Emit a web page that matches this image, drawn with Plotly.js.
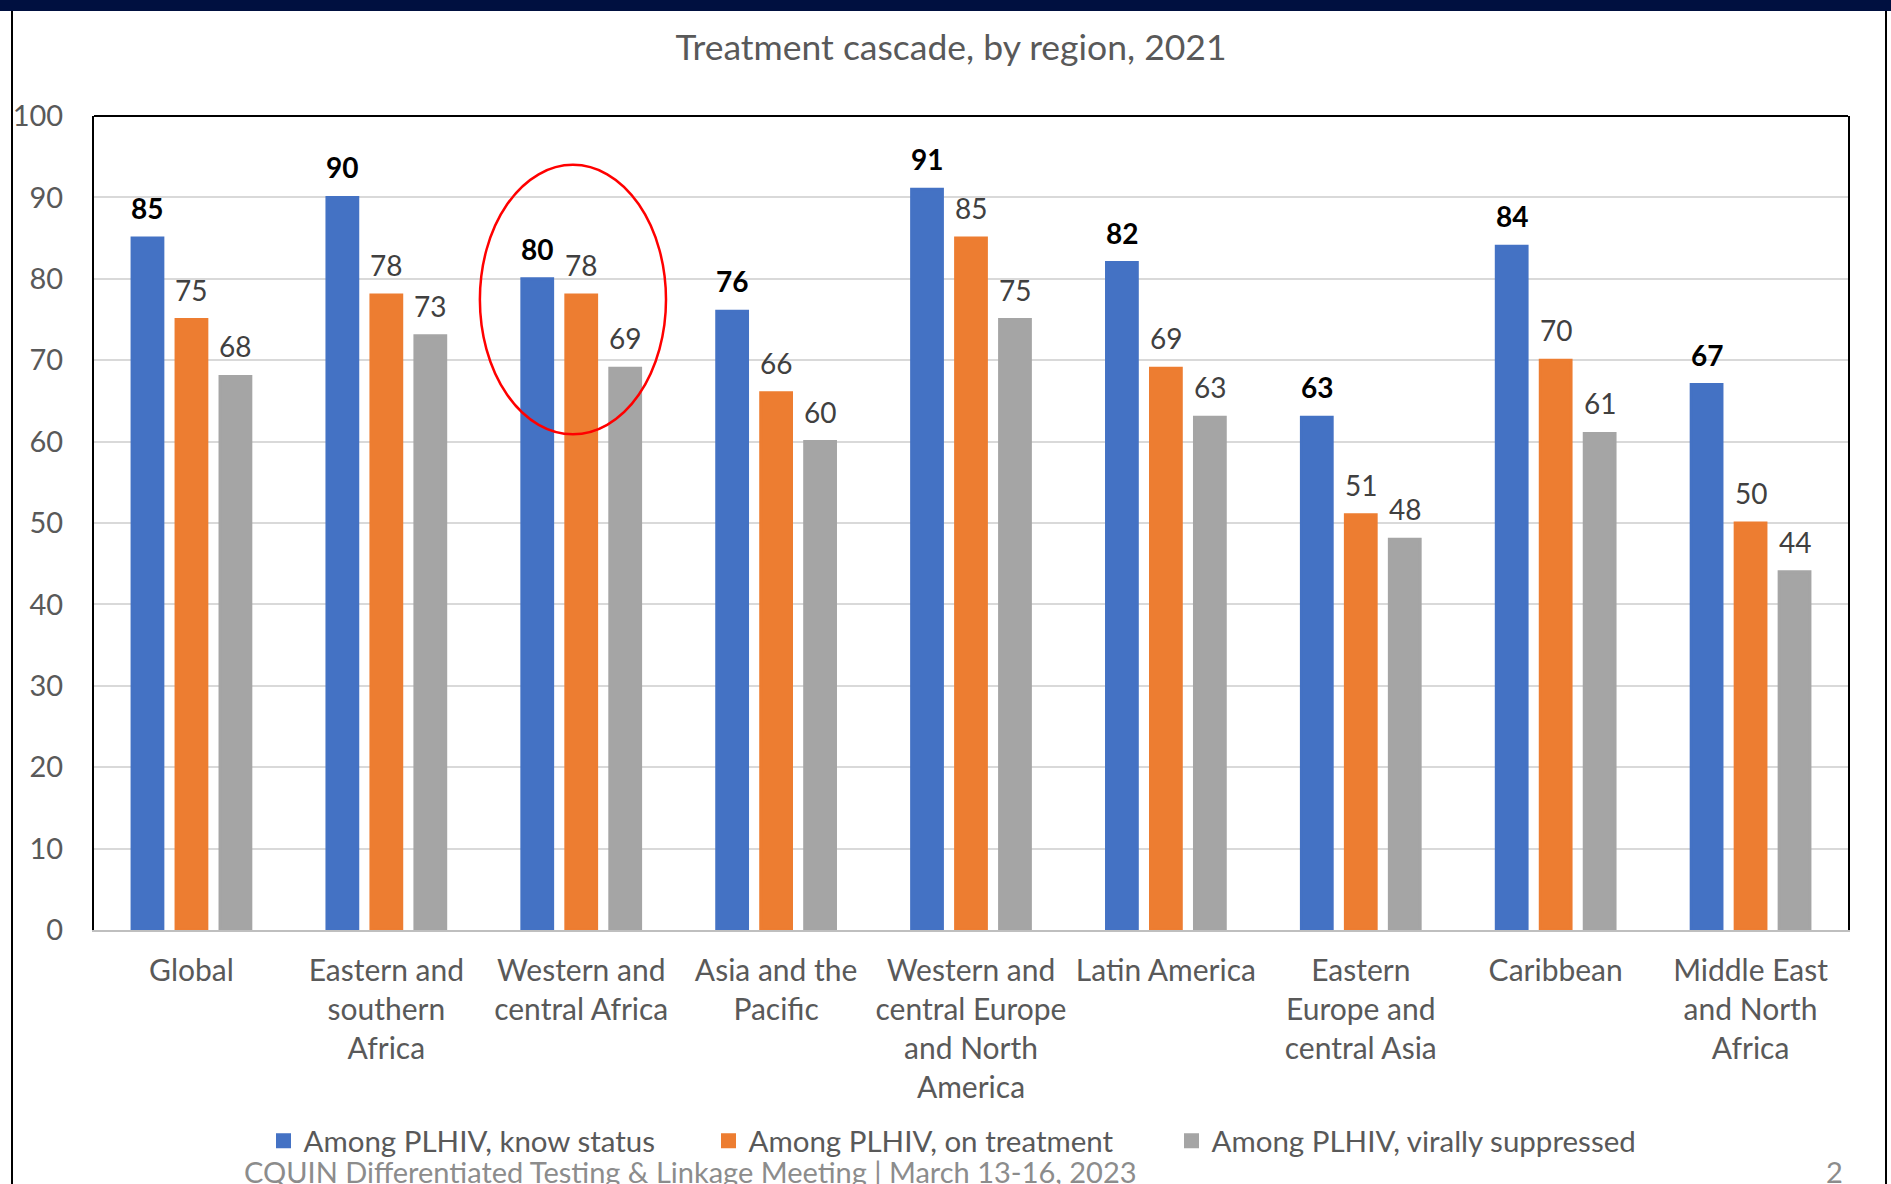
<!DOCTYPE html>
<html>
<head>
<meta charset="utf-8">
<script src="https://cdn.plot.ly/plotly-3.0.1.min.js"></script>
<style>
  html, body { margin: 0; padding: 0; background: #ffffff; }
  #chart { width: 1891px; height: 1184px; }
</style>
</head>
<body>
<div id="chart"></div>
<script>
// ---- data ----
const regions = [
  "Global",
  "Eastern and<br>southern<br>Africa",
  "Western and<br>central Africa",
  "Asia and the<br>Pacific",
  "Western and<br>central Europe<br>and North<br>America",
  "Latin America",
  "Eastern<br>Europe and<br>central Asia",
  "Caribbean",
  "Middle East<br>and North<br>Africa"
];
const knowStatus        = [85, 90, 80, 76, 91, 82, 63, 84, 67];
const onTreatment       = [75, 78, 78, 66, 85, 69, 51, 70, 50];
const virallySuppressed = [68, 73, 69, 60, 75, 63, 48, 61, 44];
const seriesNames = [
  "Among PLHIV, know status",
  "Among PLHIV, on treatment",
  "Among PLHIV, virally suppressed"
];
const chartTitle = "Treatment cascade, by region, 2021";
const footerText = "CQUIN Differentiated Testing &amp; Linkage Meeting | March 13-16, 2023";
const pageNumber = "2";

// ---- styling ----
const FONT = "Lato, 'Liberation Sans', Arial, sans-serif";
const colors = ["#4472C4", "#ED7D31", "#A5A5A5"];
const legendWidths = [400, 418, 430];
const allSeries = [knowStatus, onTreatment, virallySuppressed];

const traces = allSeries.map((vals, i) => ({
  type: "bar",
  name: seriesNames[i],
  x: regions,
  y: vals,
  marker: { color: colors[i], line: { color: colors[i], width: 3 } },
  legendwidth: legendWidths[i],
  hoverinfo: "x+y+name"
}));

// value labels as annotations, centred over each bar of the group
const plotW = 1891 - 94 - 43;
const catW = plotW / regions.length;
const bargap = 0.323;
const slotW = catW * (1 - bargap) / 3;
const annotations = [];
allSeries.forEach((vals, i) => {
  vals.forEach((v, j) => {
    annotations.push({
      x: regions[j], y: v, xref: "x", yref: "y",
      text: String(v),
      showarrow: false,
      xshift: (i - 1) * slotW,
      yshift: 30,
      yanchor: "middle",
      font: {
        family: FONT, size: 28,
        color: i === 0 ? "#000000" : "#404040",
        weight: i === 0 ? "bold" : "normal"
      }
    });
  });
});

// footer
annotations.push({
  xref: "paper", yref: "paper", x: (242 - 94) / plotW, y: (930 - 1171) / 814,
  xanchor: "left", yanchor: "middle", showarrow: false,
  text: footerText, font: { family: FONT, size: 29, color: "#8C8C8C" }
});
annotations.push({
  xref: "paper", yref: "paper", x: (1834 - 94) / plotW, y: (930 - 1171) / 814,
  xanchor: "center", yanchor: "middle", showarrow: false,
  text: pageNumber, font: { family: FONT, size: 29, color: "#8C8C8C" }
});

const px = X => (X - 94) / plotW;
const py = Y => (930 - Y) / 814;

const shapes = [
  // slide frame
  { type: "rect", xref: "paper", yref: "paper", x0: px(12), x1: px(1886), y0: py(1250), y1: py(3),
    line: { color: "#000000", width: 2 }, fillcolor: "rgba(0,0,0,0)", layer: "below" },
  // navy band at the top
  { type: "rect", xref: "paper", yref: "paper", x0: px(-5), x1: px(1900), y0: py(11), y1: py(-5),
    line: { width: 0 }, fillcolor: "#001040", layer: "above" },
  // plot frame top
  { type: "line", xref: "paper", yref: "paper", x0: 0, x1: 1, y0: 1, y1: 1,
    line: { color: "#000000", width: 2 }, layer: "above" },
  // red ellipse highlighting Western and central Africa
  { type: "circle", xref: "x", yref: "y", x0: 1.48, x1: 2.435, y0: 60.9, y1: 94.0,
    line: { color: "#FF0000", width: 2.5 }, fillcolor: "rgba(0,0,0,0)", layer: "above" }
];

const layout = {
  width: 1891, height: 1184,
  margin: { l: 94, r: 43, t: 116, b: 254, pad: 0 },
  paper_bgcolor: "#ffffff", plot_bgcolor: "#ffffff",
  font: { family: FONT, color: "#595959", size: 29 },
  title: {
    text: chartTitle,
    font: { family: FONT, size: 35.5, color: "#595959" },
    x: 951 / 1891, xref: "container", xanchor: "center",
    y: 1 - 48 / 1184, yref: "container", yanchor: "middle"
  },
  barmode: "group",
  bargap: bargap,
  bargroupgap: 0.30,
  showlegend: true,
  legend: {
    orientation: "h", x: px(955), xanchor: "center", y: py(1141), yanchor: "middle",
    font: { family: FONT, size: 29.5, color: "#595959" },
    bgcolor: "rgba(0,0,0,0)", traceorder: "normal"
  },
  xaxis: {
    type: "category",
    tickfont: { family: FONT, size: 30, color: "#595959" },
    showline: true, linecolor: "#BFBFBF", linewidth: 2,
    showgrid: false, ticks: "", ticklabelstandoff: 13,
    fixedrange: true
  },
  yaxis: {
    range: [0, 100], dtick: 10, tick0: 0,
    tickfont: { family: FONT, size: 29, color: "#595959" },
    showgrid: true, gridcolor: "#D9D9D9", gridwidth: 2,
    zeroline: false,
    showline: true, linecolor: "#000000", linewidth: 2, mirror: true,
    ticks: "", ticklabelstandoff: 23,
    fixedrange: true
  },
  annotations: annotations,
  shapes: shapes
};

Plotly.newPlot("chart", traces, layout, { displayModeBar: false, staticPlot: true });
</script>
</body>
</html>
